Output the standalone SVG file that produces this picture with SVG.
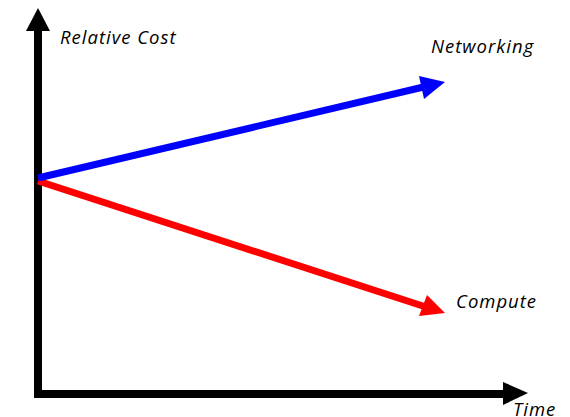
<svg xmlns="http://www.w3.org/2000/svg" width="570" height="417" viewBox="0 0 570 417">
<style>
text{font-family:"Open Sans","DejaVu Sans",sans-serif;font-style:italic;font-size:18.5px;letter-spacing:1px;fill:#000}
.ax{stroke:#000;stroke-width:8;fill:none}
</style>
<rect width="570" height="417" fill="#fff"/>
<g id="axes">
<path class="ax" d="M38,26 V398 M34,394 H508"/>
<polygon points="38,8 26,31 50,31" fill="#000"/>
<polygon points="528,393 503,382 503,405" fill="#000"/>
</g>
<g id="connectors">
<line x1="38" y1="181" x2="432" y2="309" stroke="#f00" stroke-width="7"/>
<polygon points="445,313 427,295 419,316" fill="#f00"/>
<line x1="38" y1="178" x2="432" y2="85" stroke="#00f" stroke-width="7"/>
<polygon points="445,82 419,76 424,99" fill="#00f"/>
</g>
<g id="labels">
<text x="60" y="44">Relative Cost</text>
<text x="431" y="53">Networking</text>
<text x="456" y="308">Compute</text>
<text x="513" y="416">Time</text>
</g>
</svg>
